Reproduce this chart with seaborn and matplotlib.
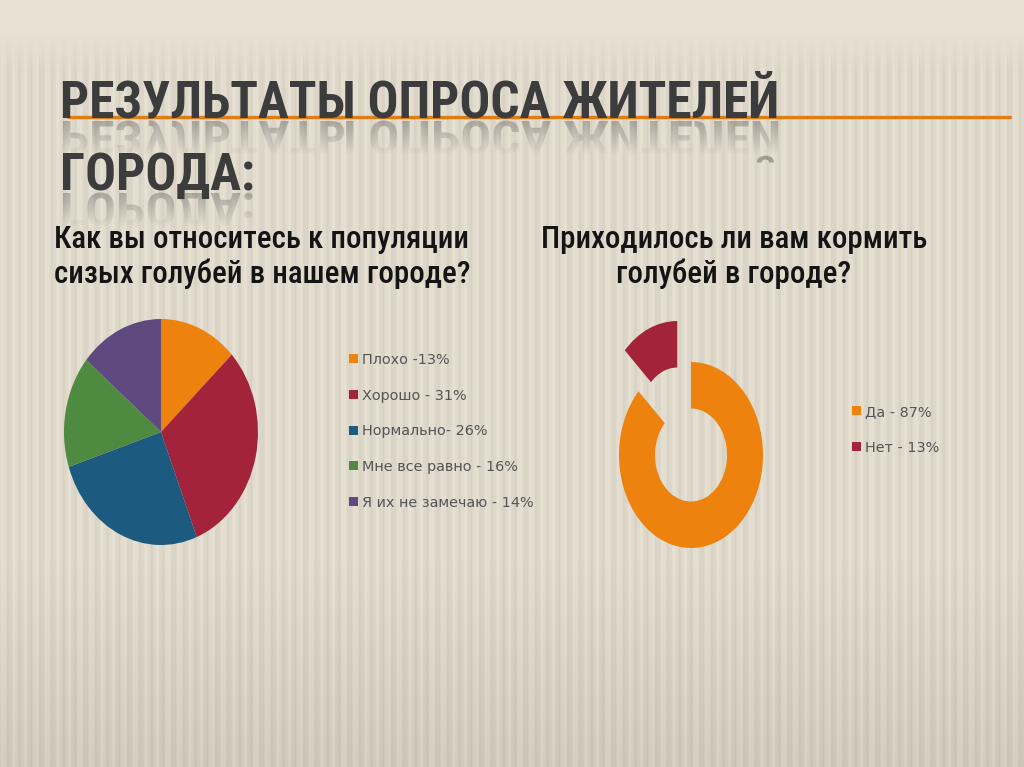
import os
import numpy as np
import matplotlib
matplotlib.use("Agg")
import matplotlib.pyplot as plt
import seaborn as sns
from matplotlib import font_manager
from matplotlib.textpath import TextPath
from matplotlib.patches import PathPatch, Patch
from matplotlib.lines import Line2D
from matplotlib.transforms import Affine2D
from matplotlib.font_manager import FontProperties

# ---------------- data ----------------
title_lines = ["РЕЗУЛЬТАТЫ ОПРОСА ЖИТЕЛЕЙ", "ГОРОДА:"]
q1_lines = ["Как вы относитесь к популяции", "сизых голубей в нашем городе?"]
q1_labels = ["Плохо -13%", "Хорошо - 31%", "Нормально- 26%",
             "Мне все равно - 16%", "Я их не замечаю - 14%"]
q1_values = [13, 31, 26, 16, 14]
q1_colors = ["#EE820F", "#A3233A", "#1D5A80", "#4E8A3F", "#5E4A7E"]

q2_lines = ["Приходилось ли вам кормить", "голубей в городе?"]
q2_labels = ["Да - 87%", "Нет - 13%"]
q2_values = [87, 13]
q2_colors = ["#EE820F", "#A3233A"]

# ---------------- style ----------------
sns.set_theme(style="white")
plt.rcParams["font.family"] = ["DejaVu Sans"]


def pick_font(patterns):
    files = [f.fname for f in font_manager.fontManager.ttflist]
    for p in patterns:
        for fn in files:
            if os.path.basename(fn).lower() == p.lower():
                return fn
    for fn in files:
        b = os.path.basename(fn).lower()
        if ("condensed" in b or "narrow" in b) and "bold" not in b and "italic" not in b \
                and "light" not in b and "thin" not in b and "semi" not in b \
                and "extra" not in b and "black" not in b and "medium" not in b:
            return fn
    return None


cond_file = pick_font(["LiberationSansNarrow-Regular.ttf", "RobotoCondensed-Regular.ttf",
                       "NotoSans-Condensed.ttf", "DejaVuSansCondensed.ttf"])
cond_med_file = pick_font(["RobotoCondensed-Medium.ttf", "RobotoCondensed-SemiBold.ttf",
                           "NotoSans-CondensedMedium.ttf"]) or cond_file
cond_bold_file = pick_font(["LiberationSansNarrow-Bold.ttf", "RobotoCondensed-Bold.ttf",
                            "NotoSans-CondensedSemiBold.ttf", "NotoSans-CondensedBold.ttf",
                            "DejaVuSansCondensed-Bold.ttf"]) or cond_file


def fp(fname, size):
    if fname:
        return FontProperties(fname=fname, size=size)
    return FontProperties(family="DejaVu Sans", size=size)


W, H = 1024, 767
fig = plt.figure(figsize=(W / 100, H / 100), dpi=100)

# striped beige background texture
xx, yy = np.meshgrid(np.arange(W), np.arange(H))
base = np.array([224, 218, 204]) / 255.0
stripe = 0.024 * np.sin(2 * np.pi * xx / 11.0) + 0.008 * np.sin(2 * np.pi * xx / 4.0)
stripe = stripe * np.clip((yy - 35) / 40.0, 0, 1)
top = np.clip((70 - yy) / 40.0, 0, 1) * 0.03
bottom = -np.clip((yy - 560) / 200.0, 0, 1) * 0.06
bg = np.clip(base[None, None, :] + (stripe + top + bottom)[..., None], 0, 1)
fig.figimage(bg, 0, 0, origin="upper", zorder=-5)

renderer = fig.canvas.get_renderer()


def fit_text(x, y, s, fname, target_w, size0, **kw):
    t = fig.text(x / W, 1 - y / H, s, fontproperties=fp(fname, size0), **kw)
    w = t.get_window_extent(renderer).width
    size = size0 * target_w / w
    t.set_fontproperties(fp(fname, size))
    return t, size


# ---------------- title with reflection ----------------
title_x = 60
baselines = [118, 190]
t, title_size = fit_text(title_x, baselines[0], title_lines[0], cond_bold_file, 720, 40,
                         color="#3C3C3C", va="baseline", ha="left", zorder=4)
fig.text(title_x / W, 1 - baselines[1] / H, title_lines[1],
         fontproperties=fp(cond_bold_file, title_size),
         color="#3C3C3C", va="baseline", ha="left", zorder=4)
title_px = title_size * 100 / 72
for line, b in zip(title_lines, baselines):
    tp = TextPath((0, 0), line, size=title_px, prop=fp(cond_bold_file, title_size))
    gap = 3
    tr = Affine2D().scale(1, -0.9).translate(title_x, H - b - gap)
    fig.add_artist(PathPatch(tp, transform=tr, facecolor="#3C3C3C", edgecolor="none",
                             alpha=0.38, zorder=1))
    r0, r1 = b + gap, b + gap + 34
    sl = bg[r0:r1].copy()
    alpha = np.linspace(0.15, 1.0, r1 - r0)[:, None] * np.ones((1, W))
    fig.figimage(np.dstack([sl, alpha]), 0, H - r1, origin="upper", zorder=2)

fig.add_artist(Line2D([68 / W, 1010 / W], [1 - 117 / H] * 2, transform=fig.transFigure,
                      color="#E27C12", lw=2.4, zorder=3))

# ---------------- subtitles ----------------
sub_y = [239, 274]
_, sub_size = fit_text(262, sub_y[0], q1_lines[0], cond_med_file, 415, 22,
                       ha="center", va="center", color="#141414")
fig.text(262 / W, 1 - sub_y[1] / H, q1_lines[1], fontproperties=fp(cond_med_file, sub_size),
         ha="center", va="center", color="#141414")
for s, y in zip(q2_lines, sub_y):
    fig.text(734 / W, 1 - y / H, s, fontproperties=fp(cond_med_file, sub_size),
             ha="center", va="center", color="#141414")

# ---------------- pie 1 ----------------
ax1 = fig.add_axes([64 / W, 1 - 545 / H, 194 / W, 226 / H])
w1, _ = ax1.pie(q1_values, colors=q1_colors, startangle=90, counterclock=False,
                wedgeprops=dict(linewidth=0))
ax1.set_aspect("auto")
ax1.set_xlim(-1, 1)
ax1.set_ylim(-1, 1)
ax1.patch.set_alpha(0)

# ---------------- donut 2 ----------------
ax2 = fig.add_axes([619 / W, 1 - 548 / H, 144 / W, 186 / H])
w2, _ = ax2.pie(q2_values, colors=q2_colors, startangle=90, counterclock=False,
                explode=[0, 0.48], wedgeprops=dict(width=0.5, linewidth=0))
for w in w2:
    w.set_clip_on(False)
ax2.set_aspect("auto")
ax2.set_xlim(-1, 1)
ax2.set_ylim(-1, 1)
ax2.patch.set_alpha(0)

# ---------------- legends ----------------
leg_kw = dict(frameon=False, labelcolor="#555555", handlelength=0.6,
              handleheight=0.6, handletextpad=0.3, borderpad=0, borderaxespad=0,
              prop=FontProperties(family="DejaVu Sans", size=10.4))
h1 = [Patch(facecolor=c, edgecolor="none") for c in q1_colors]
fig.legend(h1, q1_labels, loc="upper left", bbox_to_anchor=(349 / W, 1 - 353 / H),
           labelspacing=1.5, **leg_kw)
h2 = [Patch(facecolor=c, edgecolor="none") for c in q2_colors]
fig.legend(h2, q2_labels, loc="upper left", bbox_to_anchor=(852 / W, 1 - 405 / H),
           labelspacing=1.5, **leg_kw)

fig.savefig("out.png", dpi=100)
